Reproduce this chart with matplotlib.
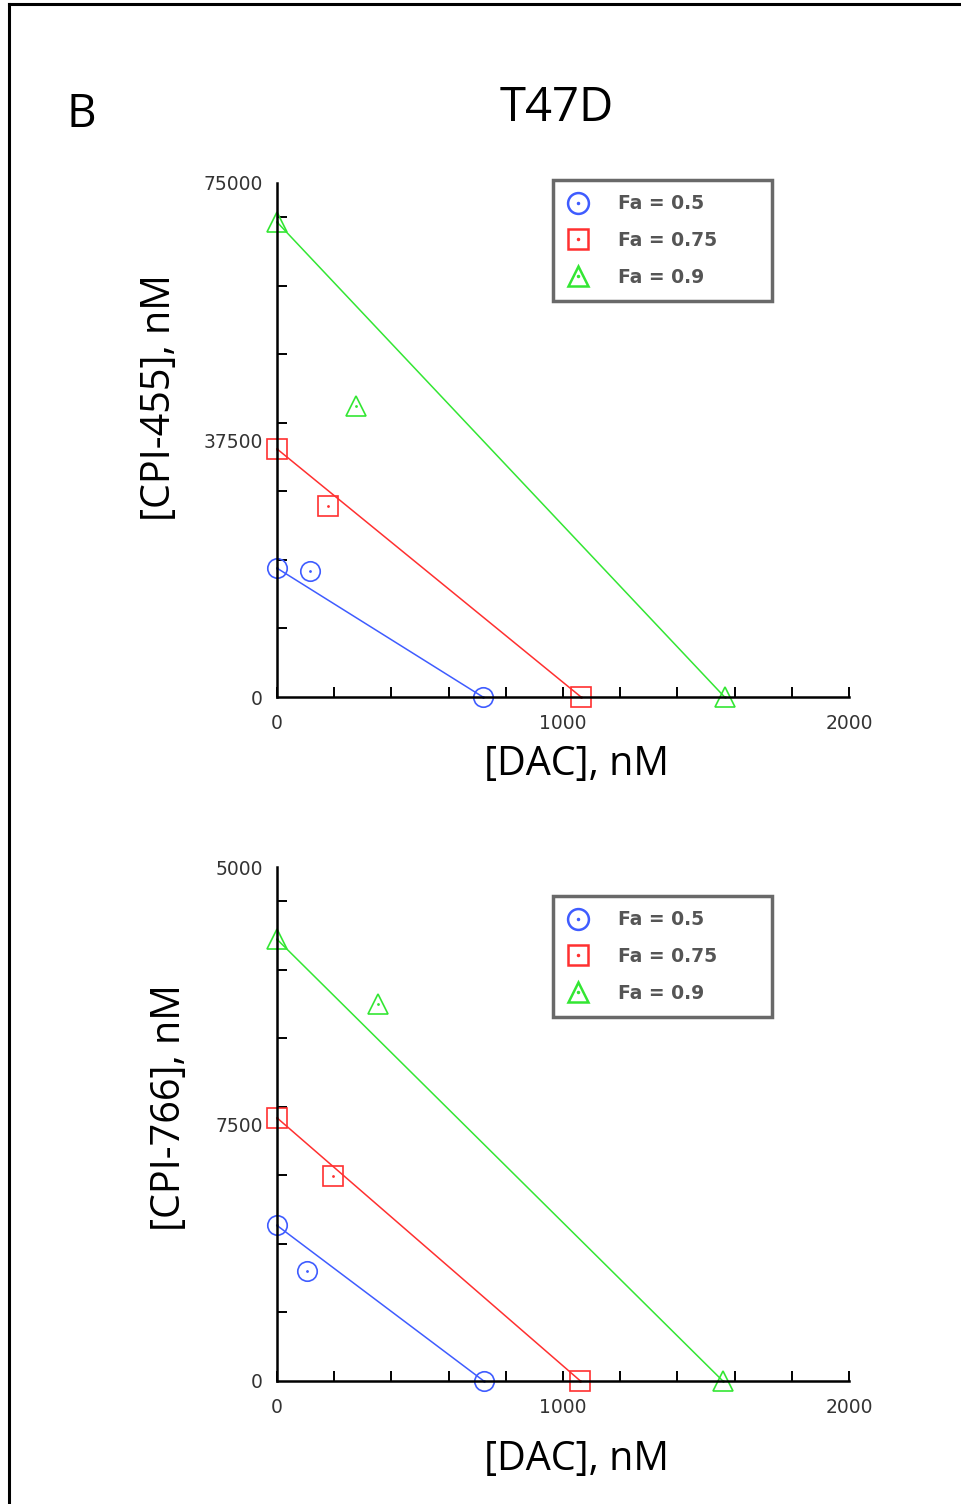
import matplotlib
matplotlib.use('Agg')
import matplotlib.pyplot as plt
from matplotlib.lines import Line2D
from matplotlib.legend_handler import HandlerTuple
from matplotlib.ticker import MultipleLocator

# Fa levels and colours
fa_labels = ['Fa = 0.5', 'Fa = 0.75', 'Fa = 0.9']
colors = ['#3f5cff', '#ff3030', '#33e633']
markers = ['o', 's', '^']

# top panel: DAC + CPI-455 (isobologram)
top_y_intercept = [18800, 36200, 69300]   # CPI-455 alone, nM
top_x_intercept = [720, 1063, 1565]       # DAC alone, nM
top_combo_x = [115, 180, 275]
top_combo_y = [18400, 27900, 42500]

# bottom panel: DAC + CPI-766
bot_y_intercept = [4540, 7680, 12890]
bot_x_intercept = [723, 1061, 1559]
bot_combo_x = [105, 196, 354]
bot_combo_y = [3220, 5980, 10990]

top_yticks = [0, 37500, 75000]
top_yticklabels = ['0', '37500', '75000']
bot_yticks = [0, 7500, 15000]
bot_yticklabels = ['0', '7500', '5000']
xticks = [0, 1000, 2000]
xticklabels = ['0', '1000', '2000']

W, H = 962, 1504
fig = plt.figure(figsize=(W / 100, H / 100), dpi=100)

def px(x, y):
    return x / W, 1 - y / H

tick_font = {'family': 'DejaVu Sans', 'size': 13.5, 'color': '#333333'}
label_font = {'family': 'Open Sans', 'size': 28.5, 'color': 'black'}


def draw_panel(rect, y_int, x_int, cx, cy, ymax, yminor, yticks, yticklabels, legend_top):
    ax = fig.add_axes(rect)
    handles = []
    for i in range(3):
        ax.plot([0, x_int[i]], [y_int[i], 0], color=colors[i], lw=1.1, clip_on=False)
        xs = [0, cx[i], x_int[i]]
        ys = [y_int[i], cy[i], 0]
        ax.plot(xs, ys, linestyle='none', marker=markers[i], ms=14, mfc='none',
                mec=colors[i], mew=1.2, clip_on=False)
        ax.plot(xs, ys, linestyle='none', marker='.', ms=2, color=colors[i], clip_on=False)
        h1 = Line2D([], [], linestyle='none', marker=markers[i], ms=15, mfc='none',
                    mec=colors[i], mew=1.8)
        h2 = Line2D([], [], linestyle='none', marker='.', ms=3, color=colors[i])
        handles.append((h1, h2))
    ax.set_xlim(0, 2000)
    ax.set_ylim(0, ymax)
    for s in ['top', 'right']:
        ax.spines[s].set_visible(False)
    for s in ['left', 'bottom']:
        ax.spines[s].set_linewidth(1.8)
    ax.set_xticks(xticks)
    ax.set_xticklabels(xticklabels, fontdict=tick_font)
    ax.set_yticks(yticks)
    ax.set_yticklabels(yticklabels, fontdict=tick_font)
    ax.xaxis.set_minor_locator(MultipleLocator(200))
    ax.yaxis.set_minor_locator(MultipleLocator(yminor))
    ax.tick_params(axis='x', which='both', direction='in', length=7, width=1.4, pad=12)
    ax.tick_params(axis='y', which='major', length=0, pad=10)
    ax.tick_params(axis='y', which='minor', direction='in', length=7, width=1.4)
    x0, y0 = px(553, legend_top)
    leg = ax.legend(handles, fa_labels, handler_map={tuple: HandlerTuple(ndivide=1)},
                    loc='upper left', bbox_to_anchor=(x0, y0 - 0.05, 219 / W, 0.05),
                    bbox_transform=fig.transFigure, borderaxespad=0, mode='expand',
                    fancybox=False, frameon=True, handlelength=1.2,
                    handletextpad=1.5, labelspacing=0.95, borderpad=0.75,
                    prop={'family': 'DejaVu Sans', 'weight': 'bold', 'size': 13.5})
    leg.get_frame().set_edgecolor('#444444')
    leg.get_frame().set_linewidth(2.5)
    for t in leg.get_texts():
        t.set_color('#555555')
    return ax


draw_panel([277 / W, 1 - 697 / H, 572 / W, 514 / H],
           top_y_intercept, top_x_intercept, top_combo_x, top_combo_y,
           75000, 10000, top_yticks, top_yticklabels, 180)
draw_panel([277 / W, 1 - 1381 / H, 572 / W, 514 / H],
           bot_y_intercept, bot_x_intercept, bot_combo_x, bot_combo_y,
           15000, 2000, bot_yticks, bot_yticklabels, 896)

fig.text(*px(557, 108), 'T47D', ha='center', va='center', family='Open Sans', size=34)
fig.text(*px(81, 115), 'B', ha='center', va='center', family='Open Sans', size=33)
fig.text(*px(576, 765), '[DAC], nM', ha='center', va='center', **label_font)
fig.text(*px(576, 1460), '[DAC], nM', ha='center', va='center', **label_font)
fig.text(*px(160, 398), '[CPI-455], nM', ha='center', va='center', rotation=90, **label_font)
fig.text(*px(170, 1108), '[CPI-766], nM', ha='center', va='center', rotation=90, **label_font)

# frame around the panel
fig.add_artist(Line2D([9 / W, 9 / W], [0, 1 - 4 / H], color='black', lw=2.2, transform=fig.transFigure))
fig.add_artist(Line2D([9 / W, 1], [1 - 4 / H, 1 - 4 / H], color='black', lw=2.2, transform=fig.transFigure))

fig.savefig('out.png', dpi=100)
